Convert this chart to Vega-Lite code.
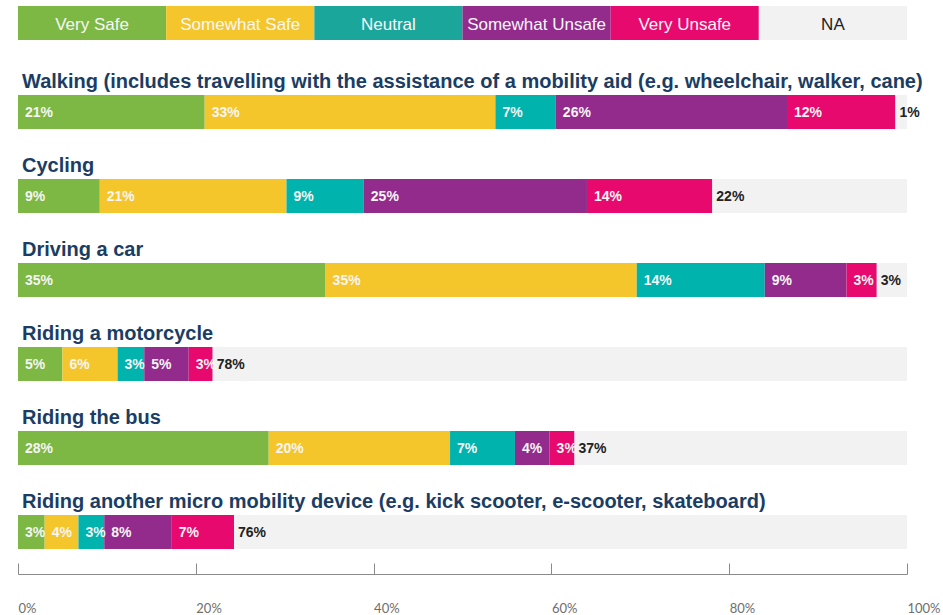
{
  "$schema": "https://vega.github.io/schema/vega-lite/v6.json",
  "padding": {"left": 17, "top": 6, "right": 0, "bottom": 0},
  "autosize": {"type": "pad"},
  "background": "white",
  "config": {"view": {"stroke": null}},
  "spacing": 30,
  "datasets": {
    "legend": [
      {"cat": "Very Safe", "k": 1},
      {"cat": "Somewhat Safe", "k": 2},
      {"cat": "Neutral", "k": 3},
      {"cat": "Somewhat Unsafe", "k": 4},
      {"cat": "Very Unsafe", "k": 5},
      {"cat": "NA", "k": 6}
    ],
    "survey": [
      {"mode": "Walking (includes travelling with the assistance of a mobility aid (e.g. wheelchair, walker, cane)", "cat": "Very Safe", "k": 1, "v": 0.21},
      {"mode": "Walking (includes travelling with the assistance of a mobility aid (e.g. wheelchair, walker, cane)", "cat": "Somewhat Safe", "k": 2, "v": 0.327},
      {"mode": "Walking (includes travelling with the assistance of a mobility aid (e.g. wheelchair, walker, cane)", "cat": "Neutral", "k": 3, "v": 0.068},
      {"mode": "Walking (includes travelling with the assistance of a mobility aid (e.g. wheelchair, walker, cane)", "cat": "Somewhat Unsafe", "k": 4, "v": 0.26},
      {"mode": "Walking (includes travelling with the assistance of a mobility aid (e.g. wheelchair, walker, cane)", "cat": "Very Unsafe", "k": 5, "v": 0.122},
      {"mode": "Walking (includes travelling with the assistance of a mobility aid (e.g. wheelchair, walker, cane)", "cat": "NA", "k": 6, "v": 0.013},
      {"mode": "Cycling", "cat": "Very Safe", "k": 1, "v": 0.092},
      {"mode": "Cycling", "cat": "Somewhat Safe", "k": 2, "v": 0.21},
      {"mode": "Cycling", "cat": "Neutral", "k": 3, "v": 0.087},
      {"mode": "Cycling", "cat": "Somewhat Unsafe", "k": 4, "v": 0.251},
      {"mode": "Cycling", "cat": "Very Unsafe", "k": 5, "v": 0.141},
      {"mode": "Cycling", "cat": "NA", "k": 6, "v": 0.219},
      {"mode": "Driving a car", "cat": "Very Safe", "k": 1, "v": 0.346},
      {"mode": "Driving a car", "cat": "Somewhat Safe", "k": 2, "v": 0.35},
      {"mode": "Driving a car", "cat": "Neutral", "k": 3, "v": 0.144},
      {"mode": "Driving a car", "cat": "Somewhat Unsafe", "k": 4, "v": 0.092},
      {"mode": "Driving a car", "cat": "Very Unsafe", "k": 5, "v": 0.034},
      {"mode": "Driving a car", "cat": "NA", "k": 6, "v": 0.034},
      {"mode": "Riding a motorcycle", "cat": "Very Safe", "k": 1, "v": 0.05},
      {"mode": "Riding a motorcycle", "cat": "Somewhat Safe", "k": 2, "v": 0.062},
      {"mode": "Riding a motorcycle", "cat": "Neutral", "k": 3, "v": 0.03},
      {"mode": "Riding a motorcycle", "cat": "Somewhat Unsafe", "k": 4, "v": 0.05},
      {"mode": "Riding a motorcycle", "cat": "Very Unsafe", "k": 5, "v": 0.027},
      {"mode": "Riding a motorcycle", "cat": "NA", "k": 6, "v": 0.781},
      {"mode": "Riding the bus", "cat": "Very Safe", "k": 1, "v": 0.282},
      {"mode": "Riding the bus", "cat": "Somewhat Safe", "k": 2, "v": 0.204},
      {"mode": "Riding the bus", "cat": "Neutral", "k": 3, "v": 0.073},
      {"mode": "Riding the bus", "cat": "Somewhat Unsafe", "k": 4, "v": 0.039},
      {"mode": "Riding the bus", "cat": "Very Unsafe", "k": 5, "v": 0.028},
      {"mode": "Riding the bus", "cat": "NA", "k": 6, "v": 0.374},
      {"mode": "Riding another micro mobility device (e.g. kick scooter, e-scooter, skateboard)", "cat": "Very Safe", "k": 1, "v": 0.03},
      {"mode": "Riding another micro mobility device (e.g. kick scooter, e-scooter, skateboard)", "cat": "Somewhat Safe", "k": 2, "v": 0.038},
      {"mode": "Riding another micro mobility device (e.g. kick scooter, e-scooter, skateboard)", "cat": "Neutral", "k": 3, "v": 0.029},
      {"mode": "Riding another micro mobility device (e.g. kick scooter, e-scooter, skateboard)", "cat": "Somewhat Unsafe", "k": 4, "v": 0.076},
      {"mode": "Riding another micro mobility device (e.g. kick scooter, e-scooter, skateboard)", "cat": "Very Unsafe", "k": 5, "v": 0.07},
      {"mode": "Riding another micro mobility device (e.g. kick scooter, e-scooter, skateboard)", "cat": "NA", "k": 6, "v": 0.757}
    ]
  },
  "vconcat": [
    {
      "width": 889,
      "height": 34,
      "data": {"name": "legend"},
      "encoding": {
        "x": {"field": "cat", "type": "nominal", "sort": null, "axis": null, "scale": {"paddingInner": 0, "paddingOuter": 0}}
      },
      "layer": [
        {
          "mark": {"type": "bar"},
          "encoding": {
            "color": {"field": "cat", "type": "nominal", "legend": null,
              "scale": {"domain": ["Very Safe", "Somewhat Safe", "Neutral", "Somewhat Unsafe", "Very Unsafe", "NA"],
                        "range": ["#7cb843", "#f5c62c", "#1ba69c", "#922b8c", "#e8096f", "#f2f2f2"]}}
          }
        },
        {
          "mark": {"type": "text", "font": "Liberation Sans", "fontSize": 17, "baseline": "alphabetic", "dy": 7},
          "encoding": {
            "text": {"field": "cat"},
            "color": {"condition": {"test": "datum.cat === 'NA'", "value": "#222222"}, "value": "#f7f7f7"}
          }
        }
      ]
    },
    {
      "width": 889,
      "height": 504,
      "data": {"name": "survey"},
      "transform": [
        {"stack": "v", "groupby": ["mode"], "sort": [{"field": "k", "order": "ascending"}], "as": ["v0", "v1"]}
      ],
      "encoding": {
        "y": {"field": "mode", "type": "nominal", "axis": null,
          "sort": ["Walking (includes travelling with the assistance of a mobility aid (e.g. wheelchair, walker, cane)", "Cycling", "Driving a car", "Riding a motorcycle", "Riding the bus", "Riding another micro mobility device (e.g. kick scooter, e-scooter, skateboard)"],
          "scale": {"paddingInner": 0, "paddingOuter": 0}}
      },
      "layer": [
        {
          "mark": {"type": "bar", "height": 34},
          "encoding": {
            "x": {"field": "v0", "type": "quantitative", "scale": {"domain": [0, 1], "nice": false},
              "axis": {"values": [0, 0.2, 0.4, 0.6, 0.8, 1], "format": ".0%", "grid": false, "title": null,
                "domainColor": "#8a8a8a", "tickColor": "#8a8a8a", "tickSize": -11, "labelPadding": 45,
                "labelAlign": "left", "labelBaseline": "middle", "labelFont": "Lato", "labelFontSize": 13,
                "labelFontWeight": "normal", "labelColor": "#6e6e6e", "labelFlush": false, "labelOverlap": false}},
            "x2": {"field": "v1"},
            "color": {"field": "cat", "type": "nominal", "legend": null,
              "scale": {"domain": ["Very Safe", "Somewhat Safe", "Neutral", "Somewhat Unsafe", "Very Unsafe", "NA"],
                        "range": ["#7cb843", "#f5c62c", "#00b3ad", "#922b8c", "#e8096f", "#f2f2f2"]}}
          }
        },
        {
          "transform": [{"filter": "datum.cat !== 'NA'"}],
          "mark": {"type": "text", "align": "left", "baseline": "alphabetic", "dx": 7, "dy": 5, "font": "Liberation Sans", "fontWeight": "bold", "fontSize": 14, "color": "#f5f5f5"},
          "encoding": {
            "x": {"field": "v0", "type": "quantitative"},
            "text": {"field": "v", "format": ".0%"}
          }
        },
        {
          "transform": [{"filter": "datum.cat === 'NA'"}],
          "mark": {"type": "text", "align": "left", "baseline": "alphabetic", "dx": 4, "dy": 5, "font": "Liberation Sans", "fontWeight": "bold", "fontSize": 14, "color": "#222222"},
          "encoding": {
            "x": {"field": "v0", "type": "quantitative"},
            "text": {"field": "v", "format": ".0%"}
          }
        },
        {
          "transform": [{"filter": "datum.k === 1"}],
          "mark": {"type": "text", "align": "left", "baseline": "alphabetic", "dx": 4, "dy": -24, "font": "Liberation Sans", "fontWeight": "bold", "fontSize": 20, "color": "#1b3d63"},
          "encoding": {
            "x": {"datum": 0, "type": "quantitative"},
            "text": {"field": "mode"}
          }
        }
      ]
    }
  ],
  "resolve": {"scale": {"color": "independent"}}
}
